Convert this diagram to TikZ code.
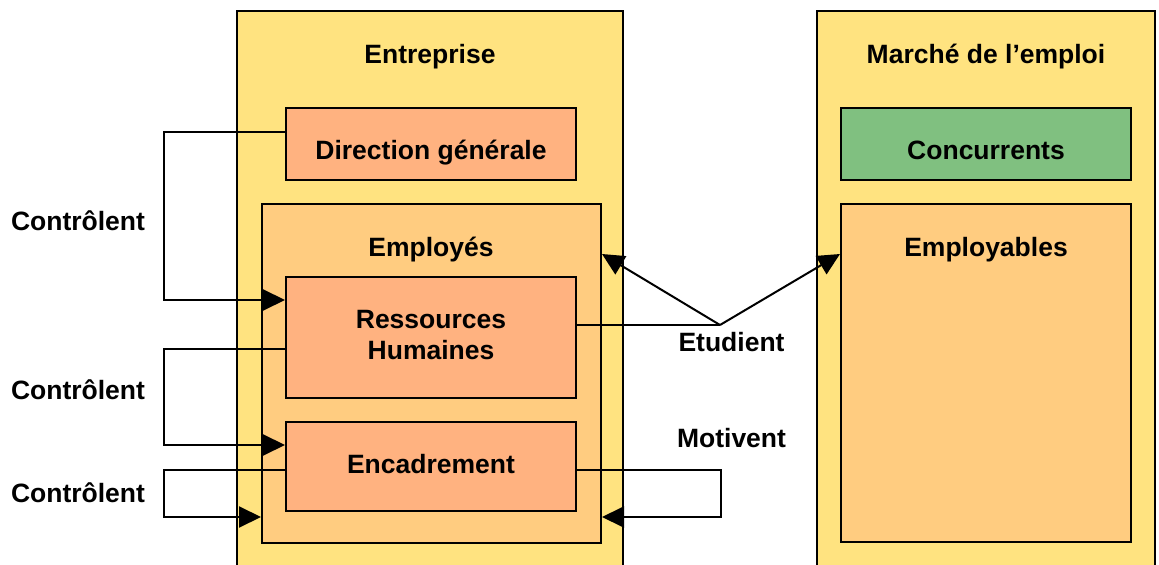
\documentclass[tikz,border=0pt]{standalone}
\usepackage{fontspec}
\setmainfont{Liberation Sans}
\usetikzlibrary{arrows.meta}
\definecolor{cyellow}{RGB}{255,227,128}
\definecolor{corange}{RGB}{255,204,128}
\definecolor{csalmon}{RGB}{255,178,128}
\definecolor{cgreen}{RGB}{128,192,128}
\tikzset{
  box/.style={draw=black, line width=1pt, inner sep=0pt, rectangle},
  txt/.style={font=\fontsize{13.25}{15.85}\selectfont\bfseries, inner sep=0pt, align=center, anchor=base},
  conn/.style={draw=black, line width=1pt},
  arr/.style={conn, -{Triangle[length=11pt,width=10.5pt]}},
}
\begin{document}
\begin{tikzpicture}[x=0.5pt,y=-0.5pt]
\useasboundingbox (0,0) rectangle (1159,565);
\clip (0,0) rectangle (1159,565);
% outer boxes
\node[box, fill=cyellow, minimum width=193pt, minimum height=304.5pt] (ent) at (430,315.5) {};
\node[box, fill=cyellow, minimum width=169pt, minimum height=304.5pt] (mar) at (986,315.5) {};
% entreprise inner
\node[box, fill=csalmon, minimum width=145pt, minimum height=36pt] (dg) at (431,144) {};
\node[box, fill=corange, minimum width=169.5pt, minimum height=169.5pt] (emp) at (431.5,373.5) {};
\node[box, fill=csalmon, minimum width=145pt, minimum height=60.5pt] (rh) at (431,337.5) {};
\node[box, fill=csalmon, minimum width=145pt, minimum height=44.5pt] (enc) at (431,466.5) {};
% marche inner
\node[box, fill=cgreen, minimum width=145pt, minimum height=36pt] (con) at (986,144) {};
\node[box, fill=corange, minimum width=145pt, minimum height=169pt] (emb) at (986,373) {};
% texts
\node[txt] (tent) at (430,63.3) {Entreprise};
\node[txt] (tdg) at (431,160) {Direction générale};
\node[txt] (temp) at (431,256.7) {Employés};
\node[txt] (trh) at (431,360) {Ressources\\Humaines};
\node[txt] (tenc) at (431,473.3) {Encadrement};
\node[txt] (tmar) at (986,63.3) {Marché de l’emploi};
\node[txt] (tcon) at (986,159.7) {Concurrents};
\node[txt] (temb) at (986,256.7) {Employables};
\node[txt] (lc1) at (78,230.7) {Contrôlent};
\node[txt] (lc2) at (78,399.3) {Contrôlent};
\node[txt] (lc3) at (78,502.7) {Contrôlent};
\node[txt] (let) at (731.5,351.7) {Etudient};
\node[txt] (lmo) at (731.5,448) {Motivent};
% connectors
\coordinate (et) at (720,325);
\draw[arr] ([yshift=6pt]dg.west) -- ++(-60.5pt,0) |- ([yshift=18.75pt]rh.west);
\draw[arr] ([yshift=-5.75pt]rh.west) -- ++(-60.5pt,0) |- ([yshift=10.75pt]enc.west);
\draw[arr] ([yshift=-1.75pt]enc.west) -- ++(-60.5pt,0) |- ([yshift=-71.75pt]emp.west);
\draw[conn] ([yshift=6.25pt]rh.east) -- (et);
\draw[arr] (et) -- ([yshift=59.75pt]emp.east);
\draw[arr] (et) -- ([yshift=59.5pt]emb.west);
\draw[arr] ([yshift=-1.75pt]enc.east) -- ++(72pt,0) |- ([yshift=-71.75pt]emp.east);
\end{tikzpicture}
\end{document}
